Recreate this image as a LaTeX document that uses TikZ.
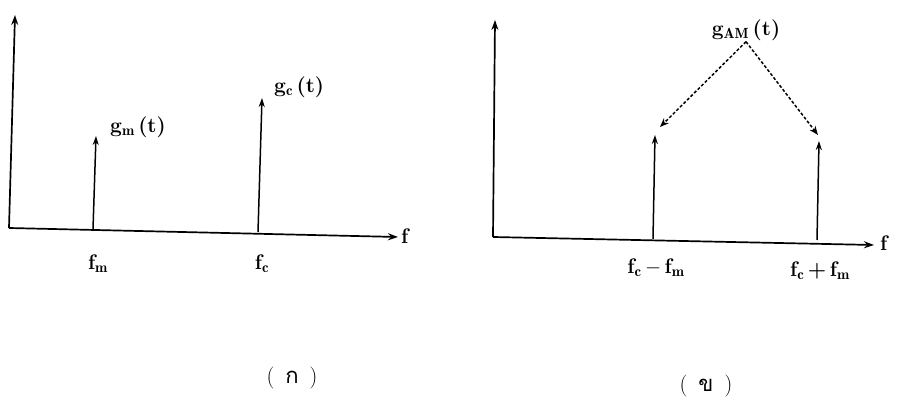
\documentclass[tikz,border=0pt]{standalone}
\usepackage{fontspec}
\newfontfamily\thaifont[Script=Thai]{Loma}
\usetikzlibrary{arrows.meta}
\begin{document}
\begin{tikzpicture}[x=1pt,y=-1pt,
  axis/.style={line width=1.7pt,-{Stealth[length=10pt,width=7pt]}},
  spike/.style={line width=1.5pt,-{Stealth[length=9pt,width=6pt]}},
  ptr/.style={line width=1.5pt,densely dashed,-{Stealth[length=9pt,width=7pt]}},
  lbl/.style={font=\fontsize{21}{24}\selectfont\bfseries,inner sep=1pt},
  captxt/.style={font=\fontsize{22}{26}\selectfont}]
\useasboundingbox (0,0) rectangle (897,403);
% left panel
\coordinate (o1) at (9,228);
\coordinate (ye1) at (15,15);
\coordinate (xe1) at (398,237);
\draw[axis] (o1) -- (ye1);
\draw[axis] (o1) -- (xe1);
\node[lbl,anchor=west] (f1) at (400,236) {f};
\coordinate (bm) at (93,229);
\coordinate (tm) at (96,136);
\coordinate (bc) at (258,232);
\coordinate (tc) at (262,98);
\draw[spike] (bm) -- (tm);
\draw[spike] (bc) -- (tc);
\node[lbl,anchor=west] (gm) at (109,127) {g$_{\mathbf{m}}$\,(t)};
\node[lbl,anchor=west] (gc) at (273,87) {g$_{\mathbf{c}}$\,(t)};
\node[lbl] (fm) at (98,264) {f$_{\mathbf{m}}$};
\node[lbl] (fc) at (262,264) {f$_{\mathbf{c}}$};
\node[captxt] (capa) at (292,378) {(\enspace{\thaifont ก}\enspace)};
% right panel
\coordinate (o2) at (493,237);
\coordinate (ye2) at (495,20);
\coordinate (xe2) at (874,245);
\draw[axis] (o2) -- (ye2);
\draw[axis] (o2) -- (xe2);
\node[lbl,anchor=west] (f2) at (879,243) {f};
\coordinate (b1) at (653,239);
\coordinate (t1) at (655,135);
\coordinate (b2) at (817,240);
\coordinate (t2) at (819,141);
\draw[spike] (b1) -- (t1);
\draw[spike] (b2) -- (t2);
\node[lbl] (gam) at (746,30) {g$_{\mathbf{AM}}$\,(t)};
\coordinate (pl) at (660,127);
\coordinate (pr) at (818,135);
\draw[ptr] (gam.south) -- (pl);
\draw[ptr] (gam.south) -- (pr);
\node[lbl] (fcm) at (656,268) {f$_{\mathbf{c}}$\,$-$\,f$_{\mathbf{m}}$};
\node[lbl] (fcp) at (820,271) {f$_{\mathbf{c}}$\,+\,f$_{\mathbf{m}}$};
\node[captxt] (capb) at (706,386) {(\enspace{\thaifont ข}\enspace)};
\end{tikzpicture}
\end{document}
